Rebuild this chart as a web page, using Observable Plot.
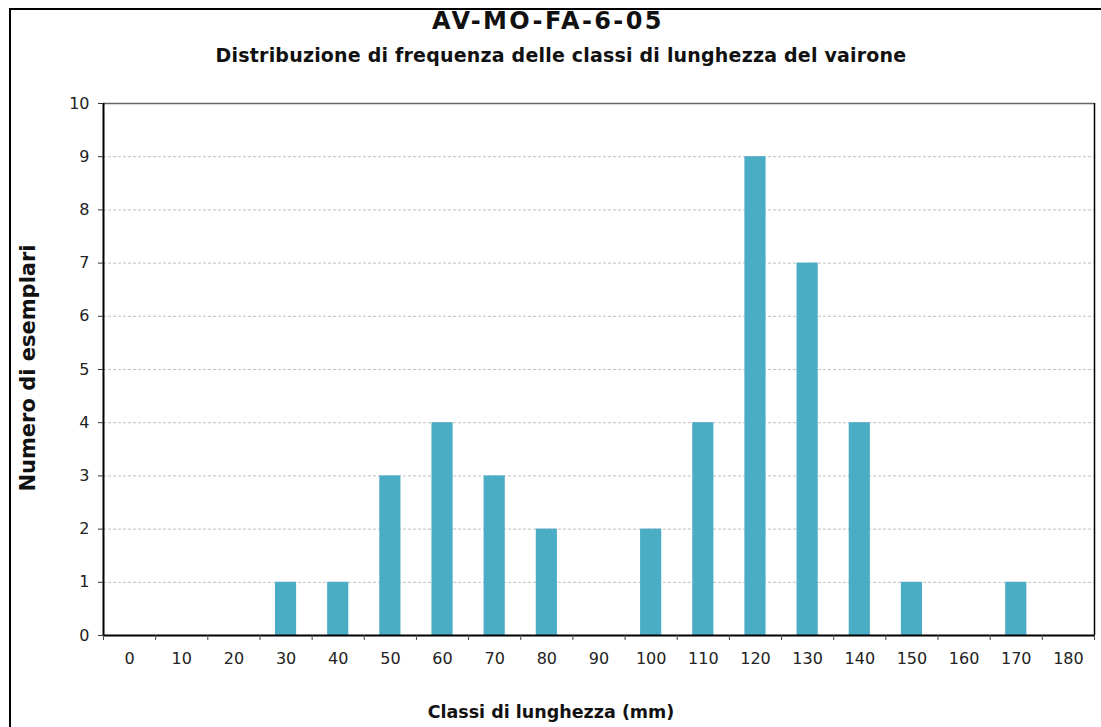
<!DOCTYPE html>
<html>
<head>
<meta charset="utf-8">
<script src="https://cdn.jsdelivr.net/npm/d3@7"></script>
<script src="https://cdn.jsdelivr.net/npm/@observablehq/plot@0.6"></script>
<style>
  html, body { margin: 0; padding: 0; background: #fff; }
  #wrap { position: relative; width: 1101px; height: 727px; overflow: hidden; }
  #frame { position: absolute; left: 9px; top: 8px; width: 1200px; height: 800px; border-left: 2px solid #000; border-top: 2px solid #000; box-sizing: border-box; }
  .t { position: absolute; width: 1000px; text-align: center; font-family: "DejaVu Sans", sans-serif; font-weight: bold; color: #111; white-space: nowrap; line-height: 1; }
  #title { top: 9px; left: 48px; font-size: 24px; letter-spacing: 2.4px; }
  #subtitle { top: 46px; left: 61px; font-size: 19px; letter-spacing: 0.2px; }
  #xlabel { top: 704px; left: 51px; font-size: 17.5px; }
  #ylabel { position: absolute; left: 28px; top: 368px; transform: translate(-50%, -50%) rotate(-90deg); font-family: "DejaVu Sans", sans-serif; font-weight: bold; font-size: 21px; line-height: 1; color: #111; white-space: nowrap; }
  #chart { position: absolute; left: 0; top: 0; }
</style>
</head>
<body>
<div id="wrap">
  <div id="frame"></div>
  <div id="chart"></div>
  <div class="t" id="title">AV-MO-FA-6-05</div>
  <div class="t" id="subtitle">Distribuzione di frequenza delle classi di lunghezza del vairone</div>
  <div class="t" id="xlabel">Classi di lunghezza (mm)</div>
  <div id="ylabel">Numero di esemplari</div>
</div>
<script>
const categories = [0, 10, 20, 30, 40, 50, 60, 70, 80, 90, 100, 110, 120, 130, 140, 150, 160, 170, 180];
const counts =     [0, 0, 0, 1, 1, 3, 4, 3, 2, 0, 2, 4, 9, 7, 4, 1, 0, 1, 0];
const yTicks = [0, 1, 2, 3, 4, 5, 6, 7, 8, 9, 10];

const data = categories.map((c, i) => ({cls: c, n: counts[i]}));
const half = 5; // half class width
const boundaries = categories.map(c => c - half).concat([categories[categories.length - 1] + half]);

const chart = Plot.plot({
  width: 1101,
  height: 727,
  marginLeft: 103,
  marginRight: 7,
  marginTop: 103,
  marginBottom: 92,
  style: { fontFamily: "DejaVu Sans, sans-serif", fontSize: "16px", color: "#222", background: "transparent" },
  x: { domain: [boundaries[0], boundaries[boundaries.length - 1]] },
  y: { domain: [0, 10] },
  marks: [
    Plot.ruleY(yTicks.slice(1, -1), { stroke: "#c0c0c0", strokeDasharray: "3,2" }),
    Plot.rectY(data, { x1: d => d.cls - half, x2: d => d.cls + half, y: "n", fill: "#4BACC6", insetLeft: 15.5, insetRight: 15.5 }),
    Plot.ruleY([10], { stroke: "#666", strokeWidth: 1.5 }),
    Plot.ruleX([boundaries[boundaries.length - 1]], { stroke: "#000", strokeWidth: 1.5 }),
    Plot.ruleX([boundaries[0]], { stroke: "#000", strokeWidth: 2 }),
    Plot.ruleY([0], { stroke: "#000", strokeWidth: 2 }),
    Plot.axisY({ ticks: yTicks, tickSize: 5, tickPadding: 9, label: null, stroke: "#333" }),
    Plot.axisX({ ticks: boundaries, tickSize: 5, tickFormat: () => "", label: null, stroke: "#444" }),
    Plot.axisX({ ticks: categories, tickSize: 0, tickPadding: 17, label: null, tickFormat: d => String(d) })
  ]
});
document.getElementById("chart").appendChild(chart);
</script>
</body>
</html>
